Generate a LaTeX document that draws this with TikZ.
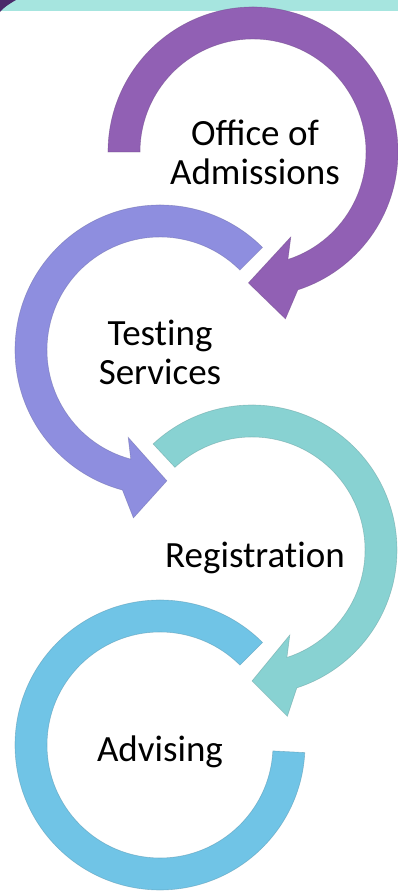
\documentclass[tikz,border=0pt]{standalone}
\usepackage{fontspec}
\setmainfont{Carlito}
\usetikzlibrary{positioning}
\definecolor{admpurple}{HTML}{9160B4}
\definecolor{testlav}{HTML}{8E8EDF}
\definecolor{regteal}{HTML}{88D2D2}
\definecolor{advblue}{HTML}{70C4E6}
\definecolor{barteal}{HTML}{A6E5DF}
\definecolor{cornerpurple}{HTML}{4A2A6A}
\def\Rout{145pt}
\def\Rin{113pt}
\def\Rtip{131pt}
\def\Wout{170pt}
\def\Win{93pt}
% colour, tail, end of band, tip, inner wing, outer wing
\newcommand{\ringarrow}[6]{%
  \filldraw[band=#1] (#2:\Rout) arc[start angle=#2, end angle=#3, radius=\Rout]
    -- (#6:\Wout) -- (#4:\Rtip) -- (#5:\Win) -- (#3:\Rin)
    arc[start angle=#3, end angle=#2, radius=\Rin] -- cycle;}
\tikzset{band/.style={fill=#1, draw=#1!75!black, draw opacity=0.5, line width=0.6pt},
  stage/.style={align=center, inner sep=0pt, font=\fontsize{37}{39}\selectfont}}

\begin{document}
\begin{tikzpicture}[x=1pt, y=1pt]
  \useasboundingbox (0,0) rectangle (398,896);
  \fill[barteal] (0,885) rectangle (398,896);
  \fill[cornerpurple] (0,896) -- (16,896) .. controls (9,892) and (3,888) .. (0,884) -- cycle;
  \begin{scope}[shift={(253,744)}]
    \ringarrow{admpurple}{180}{-72}{-92}{-66}{-79}
  \end{scope}
  \begin{scope}[shift={(160,546)}]
    \ringarrow{testlav}{45}{255}{273}{250}{261}
  \end{scope}
  \begin{scope}[shift={(252,346)}]
    \ringarrow{regteal}{133}{-72}{-90}{-66}{-78}
  \end{scope}
  \begin{scope}[shift={(160,151)}]
    \filldraw[band=advblue] (45:\Rout) arc[start angle=45, end angle=357, radius=\Rout]
      -- (357:\Rin) arc[start angle=357, end angle=45, radius=\Rin] -- cycle;
  \end{scope}
  \node[stage] (admissions) at (255,744) {Office of\\Admissions};
  \node[stage] (testing) at (160,544) {Test\kern0pt ing\\Services};
  \node[stage] (registration) at (255,338) {Registrat\kern0pt ion};
  \node[stage] (advising) at (160,144) {Advising};
\end{tikzpicture}
\end{document}
